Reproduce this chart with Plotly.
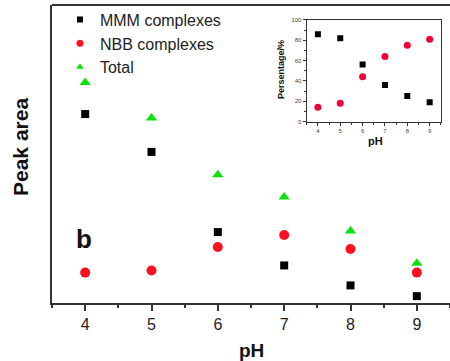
import plotly.graph_objects as go

ph = [4, 5, 6, 7, 8, 9]
mmm_area = [63.4, 50.7, 23.8, 12.6, 5.9, 2.3]
nbb_area = [10.2, 10.9, 18.8, 22.8, 18.1, 10.2]
total_area = [74.0, 62.1, 43.0, 35.6, 24.2, 13.3]
mmm_pct = [86, 82, 56, 36, 25, 19]
nbb_pct = [14, 18, 44, 64, 75, 81]
x_ticks = [4, 5, 6, 7, 8, 9]
inset_y_ticks = [0, 20, 40, 60, 80, 100]
series_names = ["MMM complexes", "NBB complexes", "Total"]

FONT = "Arial, Liberation Sans, sans-serif"
BLACK = "#000000"
RED = "#ff1020"
GREEN = "#10e010"
AX = "#333333"

fig = go.Figure()
fig.add_trace(go.Scatter(x=ph, y=mmm_area, mode="markers", showlegend=False,
                         marker=dict(symbol="square", size=8, color=BLACK)))
fig.add_trace(go.Scatter(x=ph, y=nbb_area, mode="markers", showlegend=False,
                         marker=dict(symbol="circle", size=10, color=RED)))
fig.add_trace(go.Scatter(x=ph, y=total_area, mode="markers", showlegend=False,
                         marker=dict(symbol="triangle-up", size=10, color=GREEN)))
# legend entries (smaller symbols as in the reference legend)
fig.add_trace(go.Scatter(x=[None], y=[None], mode="markers", name=series_names[0],
                         marker=dict(symbol="square", size=6, color=BLACK)))
fig.add_trace(go.Scatter(x=[None], y=[None], mode="markers", name=series_names[1],
                         marker=dict(symbol="circle", size=7, color=RED)))
fig.add_trace(go.Scatter(x=[None], y=[None], mode="markers", name=series_names[2],
                         marker=dict(symbol="triangle-up", size=7, color=GREEN)))
fig.add_trace(go.Scatter(x=ph, y=mmm_pct, mode="markers", showlegend=False,
                         xaxis="x2", yaxis="y2",
                         marker=dict(symbol="square", size=6, color=BLACK)))
fig.add_trace(go.Scatter(x=ph, y=nbb_pct, mode="markers", showlegend=False,
                         xaxis="x2", yaxis="y2",
                         marker=dict(symbol="circle", size=7, color="#f0003a")))

fig.update_layout(
    width=450, height=361,
    margin=dict(l=52, r=0, t=5, b=58),
    paper_bgcolor="white", plot_bgcolor="white",
    font=dict(family=FONT, color="#111111"),
    showlegend=True,
    legend=dict(x=0.02, y=1.008, xanchor="left", yanchor="top",
                bgcolor="rgba(0,0,0,0)", font=dict(size=16, family=FONT, color="#222222"),
                itemwidth=30, tracegroupgap=0),
    xaxis=dict(range=[3.5, 9.5], tickvals=x_ticks, ticktext=[str(v) for v in x_ticks],
               showgrid=False, zeroline=False, showline=True, linecolor=AX, linewidth=2,
               ticks="outside", ticklen=6, tickwidth=1.5, tickcolor=AX,
               tickfont=dict(size=16, family=FONT, color="#222222"),
               minor=dict(dtick=0.5, tick0=3.5, ticks="outside", ticklen=3, tickcolor=AX, tickwidth=1.5)),
    yaxis=dict(range=[0, 100], showticklabels=False, ticks="", showgrid=False,
               zeroline=False, showline=True, linecolor=AX, linewidth=2),
    xaxis2=dict(domain=[0.640, 0.977], anchor="y2", range=[3.5, 9.5], tickvals=x_ticks,
                showgrid=False, zeroline=False, showline=True, mirror=True,
                linecolor=AX, linewidth=1.2, ticks="outside", ticklen=3, tickwidth=1, tickcolor=AX,
                tickfont=dict(size=6, family=FONT, color="#444444"),
                minor=dict(dtick=0.5, tick0=3.5, ticks="outside", ticklen=2, tickcolor=AX)),
    yaxis2=dict(domain=[0.609, 0.950], anchor="x2", range=[0, 100], tickvals=inset_y_ticks,
                showgrid=False, zeroline=False, showline=True, mirror=True,
                linecolor=AX, linewidth=1.2, ticks="outside", ticklen=3, tickwidth=1, tickcolor=AX,
                tickfont=dict(size=6, family=FONT, color="#444444"),
                minor=dict(dtick=10, ticks="outside", ticklen=2, tickcolor=AX)),
)

# top border of main frame (right side is cropped off in the reference)
fig.add_shape(type="line", xref="paper", yref="paper", x0=0, x1=1.01, y0=1, y1=1,
              line=dict(color=AX, width=2))
# inset background
fig.add_shape(type="rect", xref="paper", yref="paper", x0=0.640, x1=0.977, y0=0.609, y1=0.950,
              fillcolor="white", line=dict(width=0), layer="below")

fig.add_annotation(text="<b>Peak area</b>", xref="paper", yref="paper",
                   x=-52/398 + 20/398, y=(303-147)/298, textangle=-90, showarrow=False,
                   font=dict(size=21, family=FONT, color="#111111"), xanchor="center", yanchor="middle")
fig.add_annotation(text="<b>pH</b>", xref="paper", yref="paper",
                   x=0.5, y=(303-350)/298, showarrow=False,
                   font=dict(size=19, family=FONT, color="#111111"), xanchor="center", yanchor="middle")
fig.add_annotation(text="<b>b</b>", xref="paper", yref="paper",
                   x=(84-52)/398, y=(303-239)/298, showarrow=False,
                   font=dict(size=26, family=FONT, color="#111111"), xanchor="center", yanchor="middle")
fig.add_annotation(text="<b>Persentage/%</b>", xref="paper", yref="paper",
                   x=(281-52)/398, y=(303-70)/298, textangle=-90, showarrow=False,
                   font=dict(size=9, family=FONT, color="#111111"), xanchor="center", yanchor="middle")
fig.add_annotation(text="<b>pH</b>", xref="paper", yref="paper",
                   x=(375-52)/398, y=(303-141)/298, showarrow=False,
                   font=dict(size=11, family=FONT, color="#111111"), xanchor="center", yanchor="middle")

fig.write_html("out.html")
